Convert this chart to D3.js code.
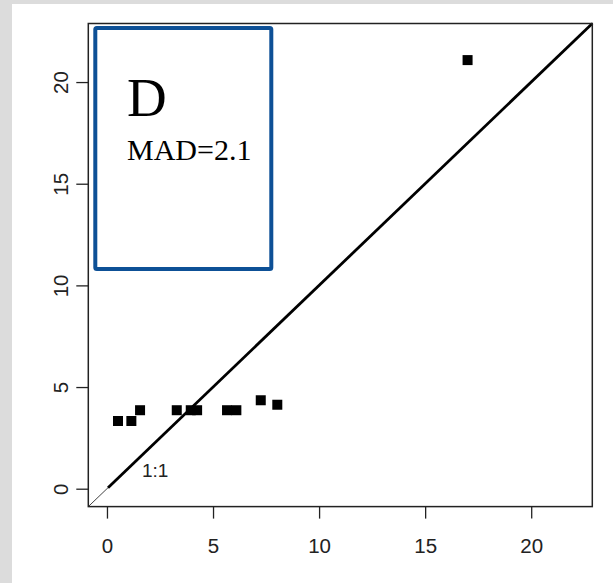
<!DOCTYPE html>
<html><head><meta charset="utf-8">
<script src="https://cdn.jsdelivr.net/npm/d3@7"></script>
<style>html,body{margin:0;padding:0;background:#dcdcdc;}svg{display:block;}</style>
</head><body>
<svg id="c" width="613" height="583"></svg>
<script>
// Data
const xObs = [0.52, 1.15, 1.56, 3.29, 3.95, 4.25, 5.66, 6.10, 7.25, 8.03, 17.0];
const yPred = [3.33, 3.33, 3.86, 3.86, 3.86, 3.86, 3.86, 3.86, 4.35, 4.13, 21.08];
const tickValues = [0, 5, 10, 15, 20];
const axisLimits = [0, 22];
const panelLabel = "D";
const madLabel = "MAD=2.1";
const oneToOneLabel = "1:1";

const svg = d3.select("#c");
// background
svg.append("rect").attr("width",613).attr("height",583).attr("fill","#dcdcdc");
svg.append("rect").attr("x",12).attr("y",4).attr("width",601).attr("height",579).attr("fill","#ffffff");

const L=88.3, R=592.3, T=23.5, B=506.6;
const pad = 0.04*(axisLimits[1]-axisLimits[0]);
const x = d3.scaleLinear().domain([axisLimits[0]-pad, axisLimits[1]+pad]).range([L,R]);
const y = d3.scaleLinear().domain([axisLimits[0]-pad, axisLimits[1]+pad]).range([B,T]);

const font = "Liberation Sans, Arial, sans-serif";
// x axis
const xa = svg.append("g").attr("transform",`translate(0,${B})`)
  .call(d3.axisBottom(x).tickValues(tickValues).tickSize(12).tickPadding(20).tickFormat(d3.format("d")));
xa.select(".domain").remove();
xa.selectAll(".tick line").attr("stroke","#222").attr("stroke-width",1.3);
xa.selectAll(".tick text").attr("font-family",font).attr("font-size",20.5).attr("fill","#222");

// y axis
const ya = svg.append("g").attr("transform",`translate(${L},0)`)
  .call(d3.axisLeft(y).tickValues(tickValues).tickSize(12).tickFormat(d3.format("d")));
ya.select(".domain").remove();
ya.selectAll(".tick line").attr("stroke","#222").attr("stroke-width",1.3);
ya.selectAll(".tick text").remove();
ya.selectAll(".tick").append("text")
  .attr("transform","translate(-27,0) rotate(-90)")
  .attr("text-anchor","middle").attr("dy","0.35em")
  .attr("font-family",font).attr("font-size",20.5).attr("fill","#222")
  .text(d=>d);

// 1:1 lines
const lo = axisLimits[0]-pad, hi = axisLimits[1]+pad;
svg.append("line").attr("x1",x(lo)).attr("y1",y(lo)).attr("x2",x(hi)).attr("y2",y(hi))
  .attr("stroke","#444").attr("stroke-width",1);
svg.append("line").attr("x1",x(0.05)).attr("y1",y(0.05)).attr("x2",x(hi)).attr("y2",y(hi))
  .attr("stroke","#000").attr("stroke-width",2.8);

// points
const s = 10;
svg.append("g").selectAll("rect").data(xObs).join("rect")
  .attr("x",(d,i)=>x(d)-s/2).attr("y",(d,i)=>y(yPred[i])-s/2)
  .attr("width",s).attr("height",s).attr("fill","#000");

// 1:1 label
svg.append("text").attr("x",x(2.27)).attr("y",y(0.92)).attr("dy","0.35em")
  .attr("text-anchor","middle").attr("font-family",font)
  .attr("font-size",19).attr("fill","#222").text(oneToOneLabel);

// box
svg.append("rect").attr("x",L).attr("y",T).attr("width",R-L).attr("height",B-T)
  .attr("fill","none").attr("stroke","#222").attr("stroke-width",1.5);

// legend box
svg.append("rect").attr("x",95.3).attr("y",28).attr("width",176).attr("height",241)
  .attr("rx",1.5).attr("fill","#fff").attr("stroke","#0d5096").attr("stroke-width",4);
svg.append("text").attr("x",127).attr("y",116).attr("font-family","Liberation Serif, Times New Roman, serif")
  .attr("font-size",55).attr("fill","#000").text(panelLabel);
svg.append("text").attr("x",127).attr("y",159.5).attr("font-family","Liberation Serif, Times New Roman, serif")
  .attr("font-size",30).attr("fill","#000").text(madLabel);
</script>
</body></html>
